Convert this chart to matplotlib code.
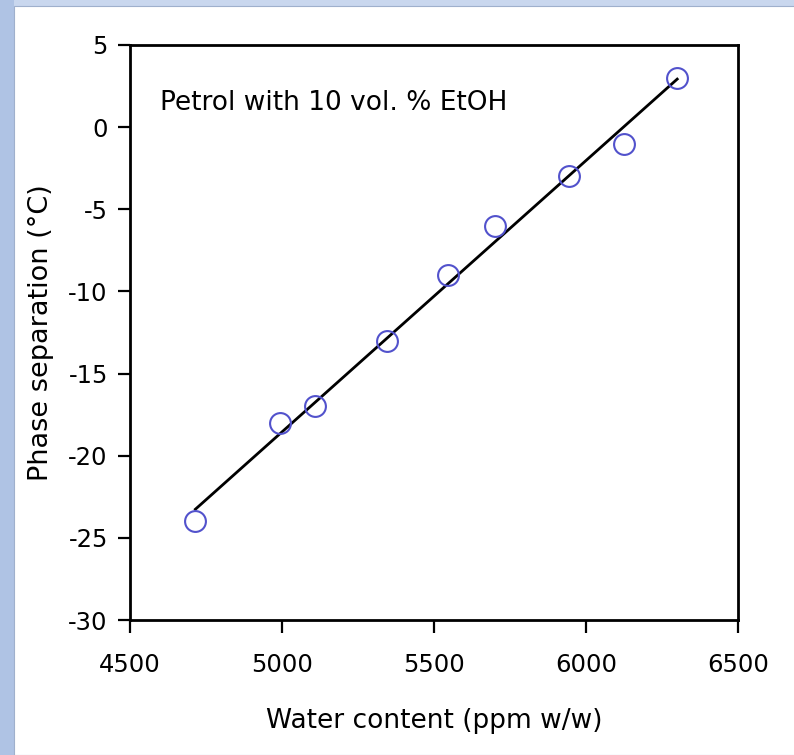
import numpy as np
import matplotlib
matplotlib.use("Agg")
import matplotlib.pyplot as plt
from matplotlib.patches import Rectangle

plt.rcParams['axes.unicode_minus'] = False

# water content (ppm w/w) and phase separation temperature (degC)
water = [4715, 4995, 5110, 5345, 5545, 5700, 5945, 6125, 6300]
temp = [-24, -18, -17, -13, -9, -6, -3, -1, 3]
xticks = [4500, 5000, 5500, 6000, 6500]
yticks = [-30, -25, -20, -15, -10, -5, 0, 5]

fig = plt.figure(figsize=(7.94, 7.55), dpi=100, facecolor="#c9d7ee")
# darker strip on the left edge, then the white slide panel
fig.patches.append(Rectangle((0, 0), 14/794, 1, transform=fig.transFigure,
                             facecolor="#afc3e4", edgecolor="none", zorder=-11))
fig.patches.append(Rectangle((14/794, 0), 1, (755-6)/755, transform=fig.transFigure,
                             facecolor="white", edgecolor="#9fb0cc", linewidth=0.8, zorder=-10))
ax = fig.add_axes([130/794, 135/755, 608/794, 575/755])
ax.set_zorder(5)

# linear fit through the points
k, b = np.polyfit(water, temp, 1)
xs = np.array([min(water), max(water)])
ax.plot(xs, k*xs + b, color="black", linewidth=2.0, zorder=2)
ax.plot(water, temp, linestyle="none", marker="o", markersize=15,
        markerfacecolor="none", markeredgecolor="#5252cc", markeredgewidth=1.5, zorder=3)

ax.set_xlim(4500, 6500)
ax.set_ylim(-30, 5)
ax.set_xticks(xticks)
ax.set_yticks(yticks)
ax.tick_params(direction="out", length=9, width=1.6, labelsize=17.5)
ax.tick_params(axis="x", pad=15)
ax.tick_params(axis="y", pad=7)
for s in ax.spines.values():
    s.set_linewidth(2.0)

ax.set_xlabel("Water content (ppm w/w)", fontsize=19, labelpad=22)
ax.set_ylabel("Phase separation (°C)", fontsize=19.5, labelpad=10)
ax.text(0.049, 0.899, "Petrol with 10 vol. % EtOH", transform=ax.transAxes,
        fontsize=19, ha="left", va="center")

fig.savefig("out.png", dpi=100, facecolor=fig.get_facecolor())
